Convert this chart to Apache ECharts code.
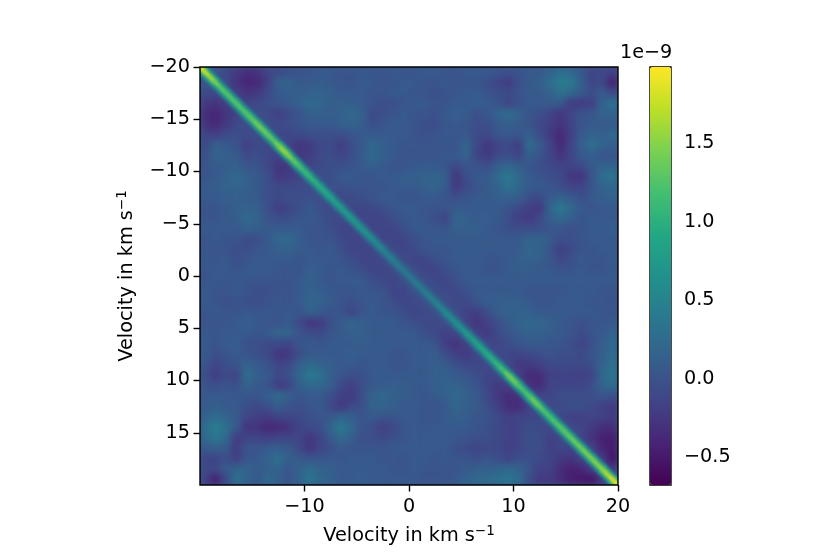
<!DOCTYPE html>
<html><head><meta charset="utf-8">
<style>html,body{margin:0;padding:0;background:#fff}
#under{position:absolute;left:200px;top:67px;width:418px;height:418px;background:#3b558b}
#c{position:absolute;left:0;top:0;width:830px;height:554px}</style>
<script src="https://cdn.jsdelivr.net/npm/echarts@6/dist/echarts.min.js"></script>
</head><body><div id="under"></div><div id="c"></div>
<script>
// Upper triangle of the symmetric matrix, 1 km/s cells, units of 1e-11. Row j starts at column j.
const upperRows = [
[10,0,-10,-25,-35,-30,-15,-10,-5,0,0,5,5,0,0,5,0,0,5,0,0,5,5,0,0,5,5,5,0,-5,0,5,5,15,25,20,5,-15,-10,-20],
[0,-10,-30,-42,-40,-20,12,15,5,5,8,5,0,0,5,5,0,0,5,5,0,0,5,0,0,0,-5,-15,-22,-5,5,10,25,42,38,10,-15,-10,-45],
[-5,-20,-30,-25,-10,5,10,8,12,15,10,5,5,5,0,0,5,5,0,0,-5,0,0,5,5,0,-5,-10,0,5,5,15,28,20,5,-5,5,-10],
[-5,-15,-10,-5,0,5,12,22,18,10,10,8,5,0,-5,-5,0,5,5,0,0,5,5,10,5,0,-15,-5,5,5,5,5,-22,-22,-20,15,30],
[-5,-5,-10,-20,-10,0,10,10,8,12,22,12,-10,-5,0,5,0,0,-5,5,10,5,-5,0,15,25,15,0,-5,-15,-28,-15,0,0,15,15],
[-5,-5,-10,-5,0,5,5,5,10,15,8,-5,0,5,5,0,-5,-5,0,5,0,-5,-5,5,10,5,0,-10,-20,-30,-15,0,5,5,5],
[-10,-10,-15,-10,-5,-5,-5,-5,0,5,5,5,5,5,0,-5,0,5,0,5,-10,-10,0,5,0,10,-5,-25,-40,-20,5,15,10,22],
[-5,-15,-28,-25,-10,-10,-22,-5,5,20,10,5,0,0,0,0,0,0,18,-10,-28,-15,-10,-22,25,8,-15,-38,-15,10,28,15,10],
[-5,-25,-22,-10,-5,-15,-5,5,22,12,5,0,0,0,0,5,5,15,-15,-25,-10,-5,-15,10,0,-15,-30,-15,5,10,0,0],
[-5,-15,-10,-5,-5,0,5,10,5,0,0,5,5,5,0,-10,0,0,-5,10,18,10,0,-5,-10,-15,-15,-10,5,15,15],
[0,-5,-5,5,5,0,0,5,5,10,10,15,18,12,-28,-5,5,5,22,38,22,5,0,-5,-10,-28,-28,0,25,35],
[0,-5,-5,0,0,0,0,5,5,5,10,15,5,-25,-10,0,5,15,30,20,5,5,0,-5,-15,-15,0,15,20],
[0,-10,-10,-5,0,5,5,0,0,5,5,0,-5,0,5,5,10,10,10,-5,-10,5,15,5,-5,5,10,15],
[0,-10,-15,-10,-5,0,5,5,0,0,0,5,5,5,5,5,0,-10,-20,-25,15,40,20,5,0,5,5],
[-5,-15,-15,-15,-5,0,5,0,-5,-15,18,10,5,10,5,-5,-20,-25,-10,10,20,10,0,5,5,5],
[-5,-15,-15,-15,-5,5,5,0,0,10,10,10,5,0,-5,-5,-5,-5,0,0,-5,0,5,5,10],
[0,-15,-15,-15,-5,0,5,5,5,5,5,5,5,5,5,15,15,5,-5,-5,0,5,5,5],
[5,-10,-15,-10,0,0,0,5,5,5,5,5,5,5,20,15,0,-20,-10,0,0,5,5],
[5,-10,-15,-15,-5,0,5,5,5,0,0,5,10,12,10,0,-10,-5,5,0,0,5],
[10,-5,-15,-15,-5,0,5,5,0,0,5,8,8,5,5,0,0,5,0,0,5],
[10,-5,-10,-15,-5,5,5,5,5,5,5,5,5,5,5,5,5,5,5,5],
[10,-5,-10,-10,-5,5,5,5,5,5,0,0,0,0,5,5,5,0,0],
[10,-5,-12,-10,0,8,10,10,10,5,0,0,5,5,5,0,0,0],
[10,-5,-20,-22,-5,8,12,15,12,5,5,5,5,5,5,0,0],
[10,-15,-30,-20,-5,5,15,20,18,10,5,0,-5,0,0,5],
[10,-18,-25,-10,0,8,12,10,8,5,0,-10,0,5,15],
[10,-10,-15,-5,0,5,5,0,0,-5,-15,-5,10,22],
[5,-10,-15,-15,-10,-5,0,-5,-5,-10,0,10,25],
[5,-10,-25,-25,-20,-10,-10,-10,-10,-5,15,28],
[5,-20,-38,-35,-20,-18,-18,-20,-15,20,35],
[0,-30,-38,-15,-15,-15,-15,-5,15,25],
[0,-15,-15,-5,-5,-5,-5,0,-5],
[5,-10,-10,-5,-5,-10,-18,-25],
[5,-10,-20,-20,-15,-18,-25],
[5,-10,-15,-25,-35,-35],
[5,-15,-30,-45,-48],
[5,-15,-42,-50],
[5,-20,-55],
[10,-25],
[15]
];
// Ridge along the diagonal, units of 1e-9: crest every 0.5 km/s, shoulders every 1 km/s, from -20 to +20.
const ridgeCrest = [1.95,1.85,1.7,1.5,1.35,1.3,1.3,1.3,1.3,1.3,1.35,1.45,1.45,1.4,1.35,1.5,1.65,1.55,1.4,1.25,1.15,1.1,1.05,1.0,.95,.9,.85,.8,.8,.78,.75,.72,.7,.65,.6,.55,.5,.48,.45,.42,.42,.42,.45,.47,.5,.52,.55,.6,.62,.68,.72,.78,.82,.88,.95,1.0,1.05,1.12,1.25,1.45,1.45,1.3,1.25,1.3,1.45,1.4,1.28,1.25,1.3,1.32,1.35,1.38,1.42,1.45,1.5,1.5,1.55,1.6,1.75,1.9,1.98];
const ridgeMid = [1.3,1.15,.95,.95,.95,1.0,1.05,1.0,1.2,1.0,.85,.75,.7,.6,.55,.5,.45,.4,.32,.28,.25,.28,.3,.35,.4,.45,.55,.65,.72,.9,1.05,.9,1.05,.92,.95,1.0,1.02,1.05,1.1,1.25,1.4];
const ridgeOuter = [.7,.6,.5,.5,.5,.52,.55,.52,.62,.5,.4,.35,.3,.25,.2,.18,.16,.12,.1,.08,.07,.08,.1,.12,.14,.16,.2,.25,.3,.42,.52,.45,.52,.45,.47,.5,.5,.52,.55,.65,.75];
const xTicks = [-10,0,10,20];
const yTicks = [-20,-15,-10,-5,0,5,10,15];
const barTicks = [-0.5,0,0.5,1,1.5];
const axisTitle = 'Velocity in km s{sup|\u22121}';
const offsetLabel = '1e\u22129';
const viridis = ['#440154','#482475','#414487','#355f8d','#2a788e','#21918c','#22a884','#44bf70','#7ad151','#bddf26','#fde725'];
const cMin = -0.675, cMax = 1.984;
const cellShift = 0.02; // calibration of the eye-read levels against the colour bar

const cats = upperRows.map((_, i) => String(i));
const cells = [];
upperRows.forEach((row, j) => row.forEach((v, k) => {
  const i = j + k;
  cells.push([i, j, v / 100 + cellShift]);
  if (i !== j) cells.push([j, i, v / 100 + cellShift]);
}));
const line = (arr, step) => arr.map((v, n) => [-20 + n * step, -20 + n * step, v]);
const minus = s => String(s).replace('-', '\u2212');
const font = 'DejaVu Sans';
const txt = {fontFamily: font, fontSize: 19.2, color: '#000'};
const tick = {length: 6.5, lineStyle: {color: '#000', width: 1.4}};
const nameStyle = {fontFamily: font, fontSize: 19.3, color: '#000',
  rich: {sup: {fontFamily: font, fontSize: 13.5, color: '#000', padding: [0, 0, 9, 0]}}};
const ridge = (data, w, len) => ({type: 'scatter', xAxisIndex: 1, yAxisIndex: 1, data, zlevel: 1, clip: true,
  symbol: 'rect', symbolSize: [len, w], symbolRotate: -45, animation: false, silent: true});

const chart = echarts.init(document.getElementById('c'), null, {renderer: 'canvas', width: 830, height: 554});
chart.setOption({
  animation: false,
  backgroundColor: 'transparent',
  grid: [
    {left: 200, top: 67, width: 418, height: 418, show: true, borderColor: '#000', borderWidth: 1.4, backgroundColor: 'transparent', zlevel: 2, outerBoundsMode: 'none'},
    {left: 650, top: 67, width: 21, height: 418, show: true, borderColor: '#000', borderWidth: 1.4, backgroundColor: 'transparent', zlevel: 2, outerBoundsMode: 'none'}
  ],
  xAxis: [
    {type: 'category', data: cats, show: false, gridIndex: 0},
    {type: 'value', gridIndex: 0, position: 'bottom', min: -20, max: 20, zlevel: 2, splitLine: {show: false}, axisLine: {show: false},
     axisTick: Object.assign({customValues: xTicks}, tick),
     axisLabel: Object.assign({customValues: xTicks, margin: 13, formatter: minus}, txt),
     name: axisTitle, nameLocation: 'middle', nameGap: 39, nameTextStyle: nameStyle},
    {type: 'value', gridIndex: 1, min: 0, max: 1, show: false}
  ],
  yAxis: [
    {type: 'category', data: cats, show: false, inverse: true, gridIndex: 0},
    {type: 'value', gridIndex: 0, position: 'left', min: -20, max: 20, inverse: true, zlevel: 2, splitLine: {show: false}, axisLine: {show: false},
     axisTick: Object.assign({customValues: yTicks}, tick),
     axisLabel: Object.assign({customValues: yTicks, margin: 10, padding: [2, 0, 0, 0], formatter: minus}, txt),
     name: axisTitle, nameLocation: 'middle', nameGap: 62, nameRotate: 90, nameTextStyle: nameStyle},
    {type: 'value', gridIndex: 1, position: 'right', min: cMin, max: cMax, zlevel: 2, splitLine: {show: false}, axisLine: {show: false},
     axisTick: Object.assign({customValues: barTicks}, tick),
     axisLabel: Object.assign({customValues: barTicks, margin: 13, padding: [2, 0, 0, 0], formatter: v => minus(v.toFixed(1))}, txt)}
  ],
  visualMap: {type: 'continuous', min: cMin, max: cMax, dimension: 2, seriesIndex: [0, 1, 2, 3], calculable: false, realtime: false,
    left: 650, top: 67, itemWidth: 21, itemHeight: 418, padding: 0, text: null, showLabel: false, zlevel: 2,
    textStyle: {fontSize: 1, color: 'transparent'}, inRange: {color: viridis}, hoverLink: false},
  graphic: [{type: 'text', zlevel: 2, left: 620, top: 44, style: {text: offsetLabel, fontFamily: font, fontSize: 19.2, fill: '#000'}}],
  series: [
    {type: 'heatmap', xAxisIndex: 0, yAxisIndex: 0, data: cells, zlevel: 0, progressive: 0, silent: true, animation: false},
    ridge(line(ridgeOuter, 1), 12.5, 16),
    ridge(line(ridgeMid, 1), 8, 16),
    ridge(line(ridgeCrest, 0.5), 4, 8.5)
  ]
});
function soften() {
  const clip = 'inset(67px 212px 69px 200px)';
  const dom = chart.getDom();
  const a = dom.querySelector('canvas[data-zr-dom-id="zr_0"]');
  const b = dom.querySelector('canvas[data-zr-dom-id="zr_1"]');
  if (a) { a.style.filter = 'blur(3.6px)'; a.style.clipPath = clip; }
  if (b) { b.style.filter = 'blur(1.2px)'; b.style.clipPath = clip; }
}
soften();
chart.on('finished', soften);
</script></body></html>
